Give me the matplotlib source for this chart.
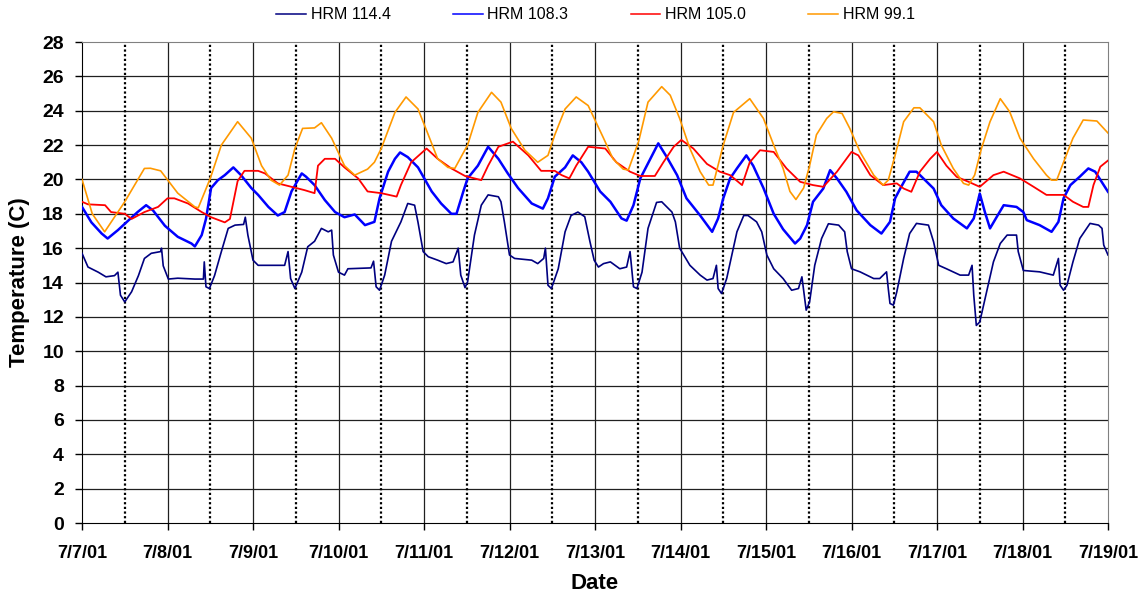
import matplotlib
matplotlib.use('Agg')
import matplotlib.pyplot as plt
import numpy as np

plt.rcParams['font.family'] = ['Liberation Sans', 'DejaVu Sans']

# time in days since 7/7/01 00:00, temperature in C
t_1144 = [0.00, 0.07, 0.19, 0.28, 0.38, 0.42, 0.45, 0.50, 0.58, 0.66, 0.73, 0.81, 0.92, 0.93, 0.95,
          1.01, 1.12, 1.32, 1.42, 1.43, 1.45, 1.49, 1.55, 1.63, 1.71, 1.79, 1.89, 1.91, 1.94, 2.00,
          2.06, 2.37, 2.41, 2.44, 2.49, 2.57, 2.64, 2.72, 2.80, 2.88, 2.92, 2.94, 3.00, 3.07, 3.11,
          3.38, 3.41, 3.44, 3.48, 3.54, 3.62, 3.73, 3.81, 3.89, 3.93, 3.99, 4.05, 4.16, 4.26, 4.34,
          4.40, 4.43, 4.48, 4.51, 4.59, 4.67, 4.75, 4.87, 4.90, 4.94, 5.00, 5.06, 5.26, 5.33, 5.40,
          5.42, 5.45, 5.49, 5.57, 5.65, 5.72, 5.80, 5.88, 5.94, 5.99, 6.04, 6.10, 6.18, 6.29, 6.37,
          6.41, 6.45, 6.49, 6.55, 6.62, 6.72, 6.78, 6.90, 6.94, 6.99, 7.11, 7.23, 7.31, 7.38, 7.42,
          7.44, 7.48, 7.54, 7.66, 7.74, 7.79, 7.89, 7.95, 8.01, 8.09, 8.20, 8.30, 8.38, 8.42, 8.47,
          8.51, 8.57, 8.65, 8.73, 8.85, 8.92, 8.95, 9.00, 9.10, 9.26, 9.33, 9.41, 9.43, 9.45, 9.49,
          9.53, 9.61, 9.68, 9.76, 9.90, 9.96, 10.02, 10.11, 10.27, 10.37, 10.41, 10.43, 10.46, 10.50,
          10.58, 10.66, 10.74, 10.82, 10.93, 10.95, 11.01, 11.20, 11.36, 11.42, 11.44, 11.48, 11.52,
          11.59, 11.67, 11.79, 11.89, 11.93, 11.95, 12.00]
v_1144 = [15.7, 14.9, 14.6, 14.33, 14.4, 14.6, 13.26, 12.87, 13.46, 14.4, 15.4, 15.7, 15.8, 16.0, 14.97,
          14.2, 14.25, 14.2, 14.2, 15.2, 13.75, 13.65, 14.4, 15.8, 17.15, 17.34, 17.38, 17.8, 16.76, 15.3,
          15.0, 15.0, 15.8, 14.23, 13.65, 14.6, 16.08, 16.4, 17.15, 16.95, 17.05, 15.6, 14.6, 14.43, 14.8,
          14.85, 15.24, 13.75, 13.55, 14.43, 16.4, 17.53, 18.6, 18.5, 17.5, 15.8, 15.5, 15.3, 15.1, 15.2,
          16.0, 14.43, 13.7, 14.04, 16.76, 18.5, 19.1, 18.99, 18.7, 17.53, 15.6, 15.4, 15.3, 15.1, 15.4,
          16.0, 13.84, 13.65, 14.8, 16.95, 17.9, 18.1, 17.83, 16.4, 15.3, 14.9, 15.1, 15.2, 14.8, 14.9,
          15.8, 13.75, 13.65, 14.6, 17.15, 18.66, 18.7, 18.1, 17.53, 16.0, 15.0, 14.43, 14.14, 14.23, 15.0,
          13.65, 13.36, 14.23, 16.95, 17.9, 17.9, 17.53, 16.95, 15.6, 14.8, 14.23, 13.55, 13.65, 14.33, 12.39,
          12.87, 15.0, 16.56, 17.42, 17.34, 16.95, 15.8, 14.8, 14.62, 14.23, 14.23, 14.62, 13.65, 12.78, 12.68,
          13.46, 15.4, 16.85, 17.44, 17.34, 16.37, 15.0, 14.8, 14.43, 14.43, 15.0, 13.26, 11.5, 11.7,
          13.46, 15.2, 16.27, 16.76, 16.76, 15.8, 14.7, 14.62, 14.43, 15.4, 13.84, 13.55, 13.84,
          15.2, 16.56, 17.44, 17.34, 17.15, 16.18, 15.6]

t_1083 = [0.00, 0.11, 0.23, 0.30, 0.42, 0.54, 0.65, 0.75, 0.83, 0.97, 1.12, 1.28, 1.32, 1.40, 1.45,
          1.51, 1.59, 1.67, 1.77, 1.86, 1.98, 2.06, 2.18, 2.29, 2.37, 2.45, 2.57, 2.62, 2.72, 2.84,
          2.96, 3.07, 3.19, 3.31, 3.42, 3.48, 3.58, 3.66, 3.72, 3.81, 3.93, 4.09, 4.20, 4.32, 4.38,
          4.46, 4.51, 4.63, 4.75, 4.87, 4.98, 5.10, 5.26, 5.39, 5.45, 5.53, 5.65, 5.74, 5.84, 5.92,
          6.06, 6.18, 6.31, 6.37, 6.45, 6.53, 6.60, 6.74, 6.84, 6.96, 7.07, 7.23, 7.37, 7.44, 7.50,
          7.58, 7.66, 7.77, 7.85, 7.97, 8.09, 8.20, 8.34, 8.40, 8.48, 8.55, 8.67, 8.75, 8.83, 8.94,
          9.06, 9.22, 9.35, 9.45, 9.51, 9.57, 9.68, 9.76, 9.84, 9.96, 10.05, 10.19, 10.35, 10.43, 10.50,
          10.56, 10.62, 10.70, 10.78, 10.93, 11.01, 11.05, 11.20, 11.34, 11.42, 11.48, 11.56, 11.67,
          11.77, 11.85, 12.00]
v_1083 = [18.4, 17.5, 16.85, 16.56, 17.05, 17.6, 18.1, 18.5, 18.2, 17.3, 16.66, 16.27, 16.1, 16.76, 17.7,
          19.5, 19.96, 20.25, 20.7, 20.25, 19.5, 19.1, 18.4, 17.9, 18.1, 19.3, 20.35, 20.16, 19.67, 18.8,
          18.1, 17.8, 17.96, 17.34, 17.53, 18.9, 20.45, 21.2, 21.57, 21.3, 20.7, 19.3, 18.6, 18.0, 18.0,
          19.3, 20.06, 20.8, 21.9, 21.2, 20.35, 19.5, 18.6, 18.3, 18.9, 20.16, 20.7, 21.4, 21.0, 20.45,
          19.3, 18.7, 17.73, 17.6, 18.5, 20.06, 20.74, 22.1, 21.3, 20.25, 18.9, 17.9, 16.95, 17.73, 18.9,
          20.06, 20.64, 21.4, 20.8, 19.5, 18.0, 17.1, 16.27, 16.56, 17.34, 18.7, 19.47, 20.54, 20.06, 19.28,
          18.2, 17.34, 16.85, 17.53, 18.9, 19.47, 20.45, 20.45, 20.06, 19.47, 18.5, 17.73, 17.15, 17.73, 19.18,
          18.1, 17.15, 17.83, 18.5, 18.4, 18.1, 17.63, 17.34, 16.95, 17.53, 18.9, 19.67, 20.16,
          20.64, 20.45, 19.28]

t_1050 = [0.00, 0.07, 0.27, 0.34, 0.50, 0.58, 0.73, 0.89, 1.00, 1.08, 1.24, 1.40, 1.51, 1.67, 1.73,
          1.82, 1.90, 2.06, 2.14, 2.29, 2.45, 2.60, 2.72, 2.76, 2.84, 2.96, 3.07, 3.23, 3.34, 3.50,
          3.68, 3.73, 3.85, 4.03, 4.16, 4.32, 4.48, 4.67, 4.75, 4.87, 5.04, 5.22, 5.37, 5.53, 5.61,
          5.70, 5.78, 5.92, 6.12, 6.25, 6.41, 6.53, 6.70, 6.80, 6.92, 7.01, 7.15, 7.31, 7.46, 7.58,
          7.72, 7.81, 7.93, 8.09, 8.24, 8.40, 8.55, 8.67, 8.83, 9.00, 9.08, 9.22, 9.37, 9.53, 9.61,
          9.70, 9.80, 9.92, 10.00, 10.11, 10.23, 10.37, 10.50, 10.66, 10.78, 10.97, 11.13, 11.28, 11.48,
          11.59, 11.71, 11.77, 11.83, 11.91, 12.00]
v_1050 = [18.7, 18.55, 18.5, 18.1, 18.0, 17.7, 18.1, 18.4, 18.9, 18.9, 18.6, 18.1, 17.8, 17.5, 17.7,
          19.9, 20.5, 20.5, 20.35, 19.77, 19.57, 19.38, 19.2, 20.8, 21.2, 21.2, 20.7, 20.06, 19.3, 19.2,
          19.0, 19.67, 21.0, 21.8, 21.2, 20.64, 20.2, 19.96, 20.8, 21.9, 22.2, 21.4, 20.5, 20.5, 20.25,
          20.06, 20.8, 21.9, 21.8, 21.0, 20.45, 20.2, 20.2, 21.0, 21.9, 22.3, 21.8, 20.9, 20.45, 20.25,
          19.67, 21.0, 21.7, 21.6, 20.64, 19.86, 19.67, 19.57, 20.45, 21.6, 21.4, 20.25, 19.67, 19.77, 19.47,
          19.28, 20.45, 21.2, 21.6, 20.8, 20.15, 19.86, 19.57, 20.25, 20.45, 20.06, 19.57, 19.1, 19.1,
          18.7, 18.4, 18.4, 19.67, 20.74, 21.1]

t_991 = [0.00, 0.12, 0.265, 0.50, 0.73, 0.80, 0.92, 1.12, 1.32, 1.36, 1.50, 1.63, 1.82, 1.98, 2.10,
         2.21, 2.31, 2.41, 2.49, 2.58, 2.72, 2.80, 2.92, 3.07, 3.19, 3.34, 3.42, 3.50, 3.66, 3.79,
         3.93, 4.05, 4.16, 4.28, 4.36, 4.51, 4.63, 4.79, 4.90, 5.02, 5.18, 5.33, 5.45, 5.53, 5.65,
         5.78, 5.92, 6.10, 6.21, 6.33, 6.39, 6.51, 6.62, 6.78, 6.88, 6.99, 7.11, 7.23, 7.33, 7.38,
         7.50, 7.62, 7.81, 7.97, 8.09, 8.20, 8.28, 8.35, 8.44, 8.51, 8.59, 8.71, 8.79, 8.89, 8.98,
         9.10, 9.26, 9.37, 9.43, 9.51, 9.61, 9.73, 9.80, 9.96, 10.05, 10.19, 10.31, 10.37, 10.44, 10.52,
         10.62, 10.74, 10.85, 10.97, 11.13, 11.28, 11.34, 11.40, 11.48, 11.59, 11.71, 11.87, 12.00]
v_991 = [20.0, 18.0, 16.95, 18.7, 20.64, 20.65, 20.5, 19.2, 18.4, 18.35, 20.06, 22.0, 23.36, 22.4, 20.8,
         19.96, 19.67, 20.25, 21.8, 22.97, 23.0, 23.3, 22.4, 20.8, 20.25, 20.6, 21.0, 21.8, 23.9, 24.8,
         24.1, 22.6, 21.2, 20.7, 20.64, 22.0, 23.9, 25.07, 24.5, 22.97, 21.7, 21.0, 21.4, 22.6, 24.1,
         24.8, 24.3, 22.4, 21.2, 20.6, 20.55, 22.2, 24.5, 25.4, 24.9, 23.55, 21.8, 20.45, 19.67, 19.67,
         22.0, 23.9, 24.7, 23.55, 22.0, 20.64, 19.3, 18.83, 19.5, 20.8, 22.6, 23.55, 23.94, 23.84, 22.97,
         21.6, 20.25, 19.67, 19.96, 21.4, 23.36, 24.17, 24.17, 23.36, 22.0, 20.64, 19.77, 19.67, 20.25, 21.8,
         23.36, 24.7, 23.94, 22.4, 21.2, 20.25, 19.96, 19.96, 21.0, 22.4, 23.46, 23.4, 22.7]

date_labels = ['7/7/01', '7/8/01', '7/9/01', '7/10/01', '7/11/01', '7/12/01', '7/13/01',
               '7/14/01', '7/15/01', '7/16/01', '7/17/01', '7/18/01', '7/19/01']

fig = plt.figure(figsize=(11.43, 5.97), dpi=100)
ax = fig.add_axes([82 / 1143, 1 - 523 / 597, (1108 - 82) / 1143, (523 - 42) / 597])

ndays = len(date_labels) - 1

# grid: solid at each day, dotted at noon
for y in range(2, 28, 2):
    ax.axhline(y, color='#202020', lw=0.9, zorder=1)
for d in range(1, ndays):
    ax.axvline(d, color='#202020', lw=0.9, zorder=1)
for d in range(ndays):
    ax.axvline(d + 0.5, color='black', lw=1.6, ls=(0, (1, 1.1)), zorder=1)

ax.plot(t_1144, v_1144, color='#000080', lw=1.2, label='HRM 114.4', zorder=3)
ax.plot(t_1083, v_1083, color='#0000FF', lw=1.8, label='HRM 108.3', zorder=3)
ax.plot(t_1050, v_1050, color='#FF0000', lw=1.3, label='HRM 105.0', zorder=3)
ax.plot(t_991, v_991, color='#FF9900', lw=1.2, label='HRM 99.1', zorder=3)

ax.set_xlim(0, ndays)
ax.set_ylim(0, 28)
ax.set_xticks(range(ndays + 1))
ax.set_xticklabels(date_labels)
ax.set_yticks(range(0, 29, 2))
ax.tick_params(axis='x', direction='out', length=5, width=1, pad=11, labelsize=13)
ax.tick_params(axis='y', direction='out', length=5, width=1, pad=8, labelsize=14)
for lab in ax.get_xticklabels() + ax.get_yticklabels():
    lab.set_fontweight('bold')

ax.spines['top'].set_color('#808080')
ax.spines['right'].set_color('#808080')
ax.spines['left'].set_color('black')
ax.spines['bottom'].set_color('black')

ax.set_xlabel('Date', fontsize=16, fontweight='bold', labelpad=8)
ax.set_ylabel('Temperature (C)', fontsize=16, fontweight='bold', labelpad=9)

leg = fig.legend(loc='center', bbox_to_anchor=(0.521, 0.975), ncol=4, frameon=False,
                 fontsize=11.5, handlelength=1.85, handletextpad=0.3, columnspacing=3.9)
for h in leg.get_lines():
    h.set_linewidth(1.1)

fig.savefig('out.png', dpi=100)
